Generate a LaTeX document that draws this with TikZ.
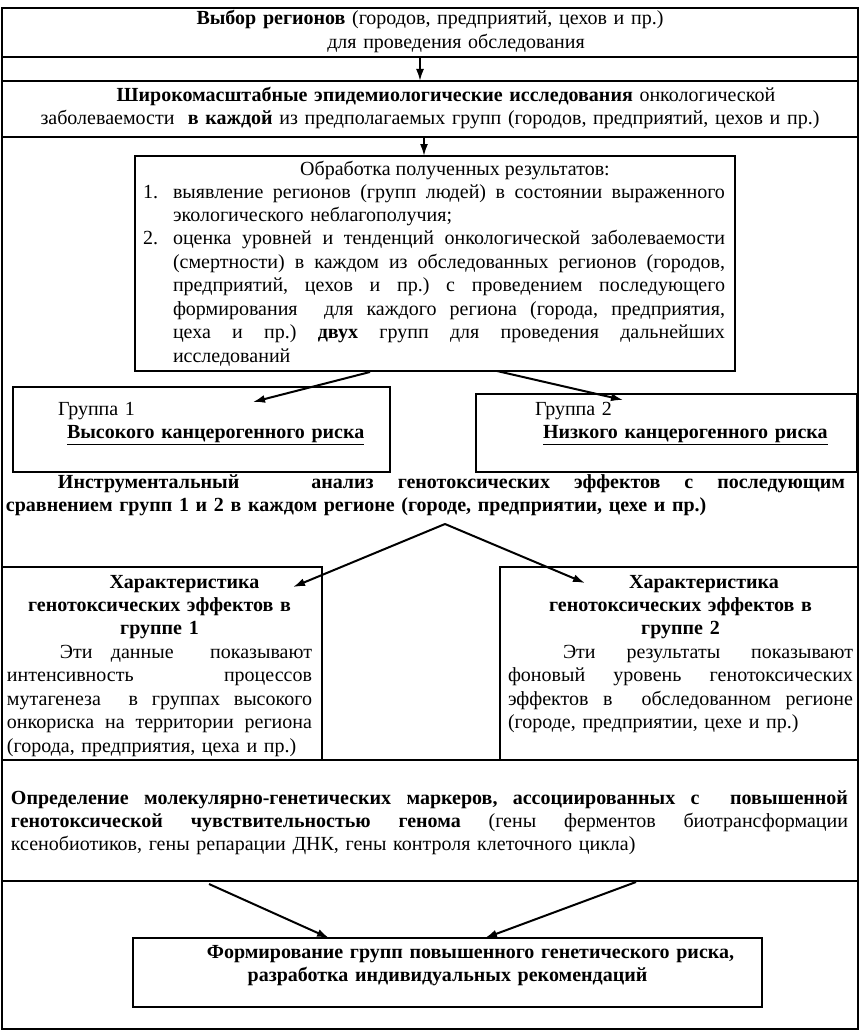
\documentclass[tikz,border=0pt]{standalone}
\usepackage{fontspec}
\setmainfont{Liberation Serif}
\usetikzlibrary{arrows.meta}
\newdimen\pxu \pxu=0.75pt
\newcommand{\jline}[2]{\leavevmode\hbox to #1\pxu{\frenchspacing\spaceskip=0.25em plus 1fil\xspaceskip=0.25em plus 1fil\relax #2}}
\newcommand{\indl}[1]{\leavevmode\hspace*{#1\pxu}}
\newcommand{\ctrline}[2]{\makebox[#1\pxu]{#2}}
\begin{document}
\begin{tikzpicture}[x=0.75pt,y=-0.75pt,
  every node/.style={inner sep=0pt,outer sep=0pt,font=\fontsize{15pt}{17.6pt}\selectfont},
  frame/.style={line width=1.1pt},
  box/.style={draw,line width=1.1pt,anchor=north west},
  heavy/.style={line width=2pt},
  txt/.style={anchor=base west,align=left},
  arr/.style={-{Latex[length=9pt,width=6pt]},line width=1.5pt}]
\useasboundingbox (0,0) rectangle (861,1031);
\fill[white] (0,0) rectangle (861,1031);
% outer frame and band lines
\draw[frame] (2,8) rectangle (858,1029);
\draw[frame] (2,57) -- (858,57);
\draw[frame] (2,81) -- (858,81);
\draw[frame] (2,137) -- (858,137);
\draw[frame] (2,567) -- (322,567) -- (322,760);
\draw[frame] (858,567) -- (500,567) -- (500,760);
\draw[frame] (2,760) -- (858,760);
\draw[frame] (2,881) -- (858,881);
% boxes
\node[box,minimum width=600\pxu,minimum height=215\pxu] (proc) at (135,156) {};
\draw[heavy] (proc.north west) -- (proc.north east);
\node[box,minimum width=377\pxu,minimum height=85\pxu] (g1) at (13,387) {};
\node[box,minimum width=381\pxu,minimum height=78\pxu] (g2) at (476,394) {};
\node[box,minimum width=629\pxu,minimum height=69\pxu] (fin) at (133,938) {};
\draw[heavy] (fin.south west) -- (fin.south east) -- (fin.north east);
% texts
\node[txt,text width=856\pxu,align=center] (sel) at (2,25)
  {\textbf{Выбор регионов} (городов, предприятий, цехов и пр.)\\
   \indl{52}для проведения обследования};
\node[txt,text width=856\pxu,align=center] (epi) at (2,101)
  {\indl{32}\textbf{Широкомасштабные эпидемиологические исследования} онкологической\\
   заболеваемости\ \ \textbf{в каждой} из предполагаемых групп (городов, предприятий, цехов и пр.)};
\node[anchor=base] (proct) at (455,175) {Обработка полученных результатов:};
\node[txt,text width=552\pxu] (procl) at (173,198)
  {\leavevmode\llap{\makebox[30\pxu][l]{1.}}\jline{552}{выявление регионов (групп людей) в состоянии выраженного}\\
   экологического неблагополучия;\\
   \leavevmode\llap{\makebox[30\pxu][l]{2.}}\jline{552}{оценка уровней и тенденций онкологической заболеваемости}\\
   \jline{552}{(смертности) в каждом из обследованных регионов (городов,}\\
   \jline{552}{предприятий, цехов и пр.) с проведением последующего}\\
   \jline{552}{формирования\ \ для каждого региона (города, предприятия,}\\
   \jline{552}{цеха и пр.) \textbf{двух} групп для проведения дальнейших}\\
   исследований};
\node[txt,text width=330\pxu] (g1t) at (58,415)
  {Группа 1\\ \indl{9}\underline{\textbf{Высокого канцерогенного риска}}};
\node[txt,text width=330\pxu] (g2t) at (535,415)
  {Группа 2\\ \indl{8}\underline{\textbf{Низкого канцерогенного риска}}};
\node[txt,text width=845\pxu,font=\fontsize{15pt}{17.6pt}\selectfont\bfseries] (instr) at (6,488)
  {\indl{52}\jline{787}{Инструментальный\ \ \ анализ генотоксических эффектов с последующим}\\
   сравнением групп 1 и 2 в каждом регионе (городе, предприятии, цехе и пр.)};
\node[txt,text width=305\pxu] (c1t) at (7,588)
  {\ctrline{305}{\indl{50}\textbf{Характеристика}}\\
   \ctrline{305}{\textbf{генотоксических эффектов в}}\\
   \ctrline{305}{\textbf{группе 1}}\\
   \indl{53}\jline{252}{Эти данные\ \ показывают}\\
   \jline{305}{интенсивность процессов}\\
   \jline{305}{мутагенеза\ \ в группах высокого}\\
   \jline{305}{онкориска на территории региона}\\
   (города, предприятия, цеха и пр.)};
\node[txt,text width=345\pxu] (c2t) at (508,588)
  {\ctrline{345}{\indl{47}\textbf{Характеристика}}\\
   \ctrline{345}{\textbf{генотоксических эффектов в}}\\
   \ctrline{345}{\textbf{группе 2}}\\
   \indl{55}\jline{290}{Эти результаты показывают}\\
   \jline{345}{фоновый уровень генотоксических}\\
   \jline{345}{эффектов в\ \ обследованном регионе}\\
   (городе, предприятии, цехе и пр.)};
\node[txt,text width=837\pxu] (def) at (11,804)
  {\jline{837}{\textbf{Определение молекулярно-генетических маркеров, ассоциированных с\ \ повышенной}}\\
   \jline{837}{\textbf{генотоксической чувствительностью генома} (гены ферментов биотрансформации}\\
   ксенобиотиков, гены репарации ДНК, гены контроля клеточного цикла)};
\node[txt,text width=629\pxu,align=center,font=\fontsize{15pt}{17.6pt}\selectfont\bfseries] (fint) at (133,958)
  {\indl{46}Формирование групп повышенного генетического риска,\\
   разработка индивидуальных рекомендаций};
% arrow coordinates
\coordinate (a1s) at (420,58);
\coordinate (a1e) at (420,81);
\coordinate (a2s) at (424,138);
\coordinate (a2e) at (424,156);
\coordinate (a3s) at (370,372);
\coordinate (a3e) at (253,402);
\coordinate (a4s) at (497,371);
\coordinate (a4e) at (623,400);
\coordinate (apx) at (445,524);
\coordinate (a5e) at (293,587);
\coordinate (a6e) at (585,583);
\coordinate (a7s) at (209,884);
\coordinate (a7e) at (329,938);
\coordinate (a8s) at (636,882);
\coordinate (a8e) at (485,938);
\draw[arr] (a1s) -- (a1e);
\draw[arr] (a2s) -- (a2e);
\draw[arr] (a3s) -- (a3e);
\draw[arr] (a4s) -- (a4e);
\draw[arr] (apx) -- (a5e);
\draw[arr] (apx) -- (a6e);
\draw[arr] (a7s) -- (a7e);
\draw[arr] (a8s) -- (a8e);
\end{tikzpicture}
\end{document}
